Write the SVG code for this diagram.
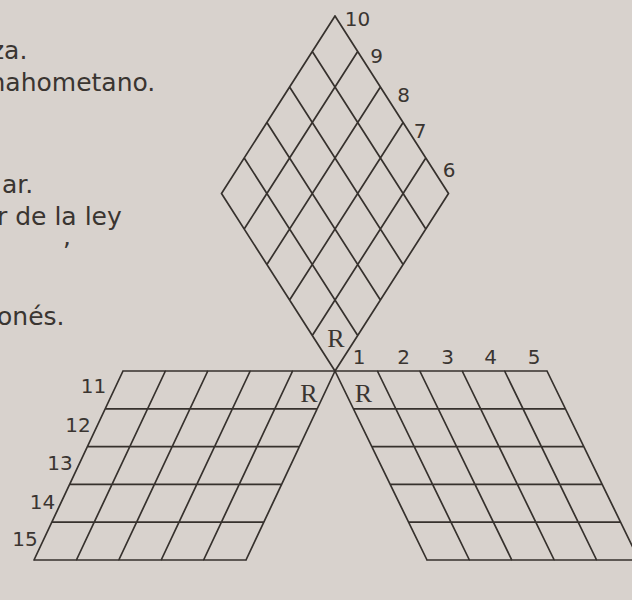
<svg xmlns="http://www.w3.org/2000/svg" width="632" height="600" viewBox="0 0 632 600">
<style>
.g{fill:none;stroke:#36312d;stroke-width:1.7;stroke-linecap:round}
.clue{font-family:"DejaVu Sans",sans-serif;font-size:25px;fill:#3a3531}
.num{font-family:"DejaVu Sans",sans-serif;font-size:20px;fill:#3a3531;text-anchor:middle}
.r{font-family:"Liberation Serif",serif;font-size:26px;fill:#3a3531;text-anchor:middle}
</style>
<rect x="0" y="0" width="632" height="600" fill="#d8d2cd"/>
<g id="clues">
<text class="clue" x="-9" y="59">za.</text>
<text class="clue" x="-19" y="91">mahometano.</text>
<text class="clue" x="2" y="193">ar.</text>
<text class="clue" x="-3" y="225">r de la ley</text>
<text class="clue" x="63" y="245">,</text>
<text class="clue" x="-3" y="325">onés.</text>
</g>
<g id="connectors">
<g id="top-rhombus">
<path class="g" d="M335,16L448.5,193.5M312.3,51.5L425.8,229M289.6,87L403.1,264.5M266.9,122.5L380.4,300M244.2,158L357.7,335.5M221.5,193.5L335,371M335,16L221.5,193.5M357.7,51.5L244.2,229M380.4,87L266.9,264.5M403.1,122.5L289.6,300M425.8,158L312.3,335.5M448.5,193.5L335,371"/>
</g>
<g id="left-grid">
<path class="g" d="M123,371H335M105.2,408.8H317.2M87.4,446.6H299.4M69.6,484.4H281.6M51.8,522.2H263.8M34,560H246M123,371L34,560M165.4,371L76.4,560M207.8,371L118.8,560M250.2,371L161.2,560M292.6,371L203.6,560M335,371L246,560"/>
</g>
<g id="right-grid">
<path class="g" d="M335,371H547M353.4,408.8H565.4M371.8,446.6H583.8M390.2,484.4H602.2M408.6,522.2H620.6M427,560H639M335,371L427,560M377.4,371L469.4,560M419.8,371L511.8,560M462.2,371L554.2,560M504.6,371L596.6,560M547,371L639,560"/>
</g>
</g>
<g id="labels">
<text class="num" x="357.5" y="26">10</text>
<text class="num" x="376.5" y="63">9</text>
<text class="num" x="403.5" y="102">8</text>
<text class="num" x="420" y="138">7</text>
<text class="num" x="449" y="177">6</text>
<text class="num" x="359" y="364">1</text>
<text class="num" x="403.5" y="364">2</text>
<text class="num" x="447.5" y="364">3</text>
<text class="num" x="490.5" y="364">4</text>
<text class="num" x="534" y="364">5</text>
<text class="num" x="93.5" y="393">11</text>
<text class="num" x="78" y="432">12</text>
<text class="num" x="60" y="470">13</text>
<text class="num" x="42.5" y="509">14</text>
<text class="num" x="25" y="546">15</text>
<text class="r" x="336" y="347">R</text>
<text class="r" x="309" y="402">R</text>
<text class="r" x="363.5" y="402">R</text>
</g>
</svg>
